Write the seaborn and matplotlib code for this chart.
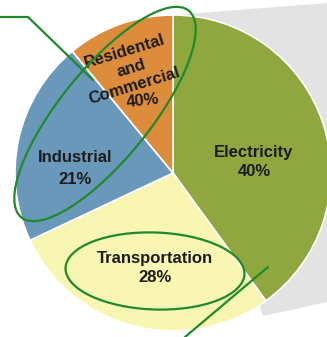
import matplotlib
matplotlib.use("Agg")
import matplotlib.pyplot as plt
from matplotlib.patches import Ellipse, Polygon
import seaborn as sns

# data (slice order: clockwise from 12 o'clock)
sectors = ["Electricity", "Transportation", "Industrial", "Residental\nand\nCommercial"]
shares = [40, 28, 21, 11]
pct_labels = ["40%", "28%", "21%", "40%"]   # as printed on the original chart
colors = ["#8fa73e", "#f8f6b2", "#6a98bb", "#dd8c3b"]

W, H = 327, 337

sns.set_theme(style="white")
plt.rcParams['font.family'] = ['Liberation Sans', 'DejaVu Sans']

fig = plt.figure(figsize=(W / 100, H / 100), dpi=100)
ax = fig.add_axes([0, 0, 1, 1])
ax.set_xlim(0, W)
ax.set_ylim(0, H)
ax.set_aspect('equal')
ax.axis('off')


def Y(y):
    # picture rows count from the top
    return H - y


# grey backdrop of the pie-of-pie connector
ax.add_patch(Polygon([(173, Y(15)), (W, Y(3)), (W, Y(302)), (263, Y(316))],
                     closed=True, facecolor="#e3e3e3", edgecolor="none", zorder=0))

cx, cy, r = 173, Y(173), 158
ax.pie(shares, colors=colors, startangle=90, counterclock=False,
       center=(cx, cy), radius=r, frame=True,
       wedgeprops=dict(edgecolor="white", linewidth=1.2))
ax.set_xlim(0, W)
ax.set_ylim(0, H)
ax.axis('off')

txt = dict(fontsize=12, fontweight='bold', color="#1c1c1c", ha='center', va='center', zorder=5)
ax.text(254, Y(152), sectors[0], **txt)
ax.text(254, Y(171), pct_labels[0], **txt)
ax.text(155, Y(259), sectors[1], **txt)
ax.text(155, Y(278), pct_labels[1], **txt)
ax.text(75, Y(158), sectors[2], **txt)
ax.text(75, Y(179), pct_labels[2], **txt)
res_lines = sectors[3].split("\n")
ax.text(125, Y(51), res_lines[0], rotation=17, **txt)
ax.text(131, Y(68), res_lines[1], rotation=17, **txt)
ax.text(134, Y(86), res_lines[2], rotation=17, **txt)
ax.text(143, Y(101), pct_labels[3], rotation=6, **txt)

# hand-drawn green annotations
green = "#1f8a2b"
ax.add_patch(Ellipse((105, Y(114)), 266, 90, angle=51, fill=False,
                     edgecolor=green, linewidth=1.6, zorder=6))
ax.add_patch(Ellipse((155, Y(271)), 179, 77, angle=-2, fill=False,
                     edgecolor=green, linewidth=1.6, zorder=6))
ax.plot([0, 28, 93], [Y(17), Y(17), Y(80)], color=green, linewidth=1.6, zorder=6)
ax.plot([268, 185], [Y(267), Y(337)], color=green, linewidth=1.6, zorder=6)

fig.savefig("out.png", dpi=100)
